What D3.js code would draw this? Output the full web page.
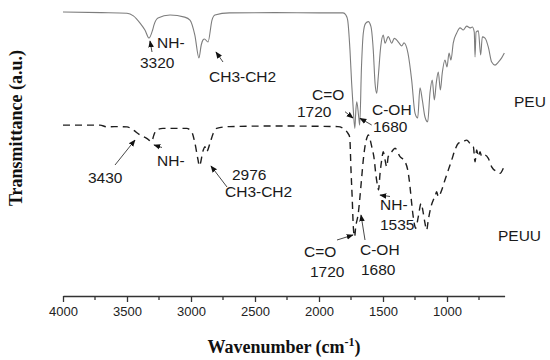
<!DOCTYPE html>
<html>
<head>
<meta charset="utf-8">
<script src="https://cdn.jsdelivr.net/npm/d3@7"></script>
<style>
  body { margin: 0; background: #fff; }
  svg { display: block; }
</style>
</head>
<body>
<svg id="chart" width="550" height="360"></svg>
<script>
// wavenumber (cm-1) and transmittance (a.u.)
var peuWn = [4000,3700,3500,3450,3398,3360,3328,3300,3289,3258,3164,3050,3008,2970,2938,2920,2906,2895,2867,2836,2813,2700,2344,2000,1812,1790,1776,1758,1745,1732,1720,1712,1705,1690,1682,1668,1654,1636,1615,1594,1576,1562,1549,1537,1518,1498,1484,1459,1432,1412,1401,1375,1354,1336,1305,1276,1250,1229,1211,1193,1172,1151,1133,1115,1099,1084,1068,1052,1037,1016,1000,984,969,951,924,898,873,846,820,802,787,781,773,755,737,724,703,677,651,625,599,573,552];
var peuT = [96,95.8,95.6,94.7,92.3,90,87.3,90,91.7,94,95,94.3,93.3,88.3,80.7,85,86.7,87,86,93.3,95,95.7,95.8,95.7,95.7,95,93.3,83.3,72.3,63.3,57.2,63.3,66.1,61.1,58.3,77.8,88.9,92.2,92.8,91.1,83.3,72.2,68.9,74.4,84.4,88.3,85.6,87.8,85.6,87.2,87,85.7,84.7,85.7,82.3,73.3,62.3,60.7,70.7,66.7,61,59.4,69,73.3,66.7,72.3,76,70,75.7,80,77.7,82.3,80,85.7,89,90.7,90,91.3,90.7,91,89.3,81,89.3,89.7,81.7,87.7,87.3,84.3,79.3,78.3,79.3,80.7,82.3];

var peuuWn = [4000,3800,3711,3656,3600,3500,3453,3398,3346,3307,3290,3268,3219,3034,2995,2969,2945,2935,2904,2891,2878,2852,2826,2800,2700,2344,1852,1810,1776,1760,1750,1740,1732,1722,1713,1693,1680,1666,1654,1641,1627,1615,1588,1568,1557,1541,1535,1523,1510,1498,1484,1471,1459,1432,1406,1367,1328,1302,1289,1276,1264,1250,1245,1224,1203,1185,1172,1159,1146,1125,1107,1094,1081,1068,1041,1016,990,963,938,912,873,846,820,794,781,768,755,742,729,703,677,651,612,586,560];
var peuuT = [58.3,58.3,58.3,57.7,57.8,57.7,56.7,55,53.9,52.8,55,56.7,57.2,57.2,56.1,52.2,46.7,44.7,50,51.1,49.4,52.2,55.6,57.2,57.8,58,57.8,57.2,55.7,54.3,43.3,33.3,24.4,21.1,24.4,28.9,34.4,41.1,46.7,51.1,53.9,55,51.1,46.7,42.2,37.8,36.7,42.2,46.7,49.4,46.7,44.4,47.8,49.4,50.6,47.8,46.1,42.2,37.8,32.2,27.8,24.4,23.9,27.8,32.2,28.9,25.6,23.3,26.7,31.1,33.3,34.4,36.1,34.4,36.7,40,43.3,46.7,50,52.2,52.8,53.3,52.2,51.1,46.1,50,47.8,49.4,47.8,48.3,47.2,44.4,42.8,42.2,43.9];

var majorTicks = [4000,3500,3000,2500,2000,1500,1000];
var minorTicks = [3750,3250,2750,2250,1750,1250,750];

var svg = d3.select("#chart");

var xScale = d3.scaleLinear().domain([4000, 550]).range([63, 504.6]);
var yScale = d3.scaleLinear().domain([0, 100]).range([300, 0]);

var line = d3.line()
    .x(function (d) { return xScale(d[0]); })
    .y(function (d) { return yScale(d[1]); })
    .curve(d3.curveMonotoneX);

var peu = peuWn.map(function (w, i) { return [w, peuT[i]]; });
var peuu = peuuWn.map(function (w, i) { return [w, peuuT[i]]; });

svg.append("path").datum(peu)
    .attr("d", line)
    .style("fill", "none").style("stroke", "#7d7d7d").style("stroke-width", "1.1px");

svg.append("path").datum(peuu)
    .attr("d", line)
    .style("fill", "none").style("stroke", "#1e1e1e").style("stroke-width", "1.4px")
    .style("stroke-dasharray", "7,5");

// x axis
var xAxis = d3.axisBottom(xScale).tickValues(majorTicks).tickSize(6).tickSizeOuter(0).tickPadding(5)
    .tickFormat(d3.format("d"));
var gx = svg.append("g").attr("transform", "translate(0,296)").call(xAxis);
gx.select(".domain").style("stroke", "#333").style("stroke-width", "1.3px");
gx.selectAll(".tick line").style("stroke", "#333").style("stroke-width", "1.3px");
gx.selectAll(".tick text").style("font-family", "Liberation Sans, Arial, sans-serif")
    .style("font-size", "13px").style("fill", "#222");

svg.append("g").attr("transform", "translate(0,296)")
    .selectAll("line").data(minorTicks).enter().append("line")
    .attr("x1", function (d) { return xScale(d); }).attr("x2", function (d) { return xScale(d); })
    .attr("y1", 0).attr("y2", 4)
    .style("stroke", "#333").style("stroke-width", "1.3px");

// axis titles
var xt = svg.append("text").attr("x", 284).attr("y", 353)
    .attr("text-anchor", "middle")
    .style("font-family", "Liberation Serif, Times New Roman, serif")
    .style("font-weight", "bold").style("font-size", "18px").style("fill", "#111");
xt.append("tspan").text("Wavenumber (cm");
xt.append("tspan").attr("dy", -7).style("font-size", "12px").text("-1");
xt.append("tspan").attr("dy", 7).text(")");

svg.append("text")
    .attr("transform", "translate(22,128) rotate(-90)")
    .attr("text-anchor", "middle")
    .style("font-family", "Liberation Serif, Times New Roman, serif")
    .style("font-weight", "bold").style("font-size", "18px").style("fill", "#111")
    .text("Transmittance (a.u.)");

// annotations
var labels = [
    ["NH-",157,48],["3320",140,68],["CH3-CH2",209,82],
    ["C=O",312,100],["1720",297,117],["C-OH",372,115],["1680",373,132],["PEU",514,107],
    ["3430",88,183],["NH-",157,166],["2976",232,180],["CH3-CH2",225,197],
    ["NH-",380,210],["1535",380,230],
    ["C=O",304,257],["1720",310,277],["C-OH",360,255],["1680",361,275],["PEUU",498,241]
];
svg.append("g").selectAll("text").data(labels).enter().append("text")
    .attr("x", function (d) { return d[1]; })
    .attr("y", function (d) { return d[2]; })
    .style("font-family", "Liberation Sans, Arial, sans-serif")
    .style("font-size", "15.5px").style("fill", "#1a1a1a")
    .text(function (d) { return d[0]; });

svg.append("defs").append("marker")
    .attr("id", "head").attr("viewBox", "0 0 10 10")
    .attr("refX", 9).attr("refY", 5)
    .attr("markerWidth", 7).attr("markerHeight", 7)
    .attr("markerUnits", "userSpaceOnUse")
    .attr("orient", "auto")
    .append("path").attr("d", "M0,1 L10,5 L0,9 Z").style("fill", "#111");

var arrows = [
    [152,52,150,41],[223,62,216,52],[345,111.7,353,118],[371.7,125,360,118.3],
    [115,165,135,140],[162,147.5,154,145],[227,187,211,166],[390,196.5,380,195],
    [337,240,353,235],[365,240,361,215]
];
svg.append("g").selectAll("line").data(arrows).enter().append("line")
    .attr("x1", function (d) { return d[0]; }).attr("y1", function (d) { return d[1]; })
    .attr("x2", function (d) { return d[2]; }).attr("y2", function (d) { return d[3]; })
    .attr("marker-end", "url(#head)")
    .style("stroke", "#333").style("stroke-width", "0.9px");
</script>
</body>
</html>
